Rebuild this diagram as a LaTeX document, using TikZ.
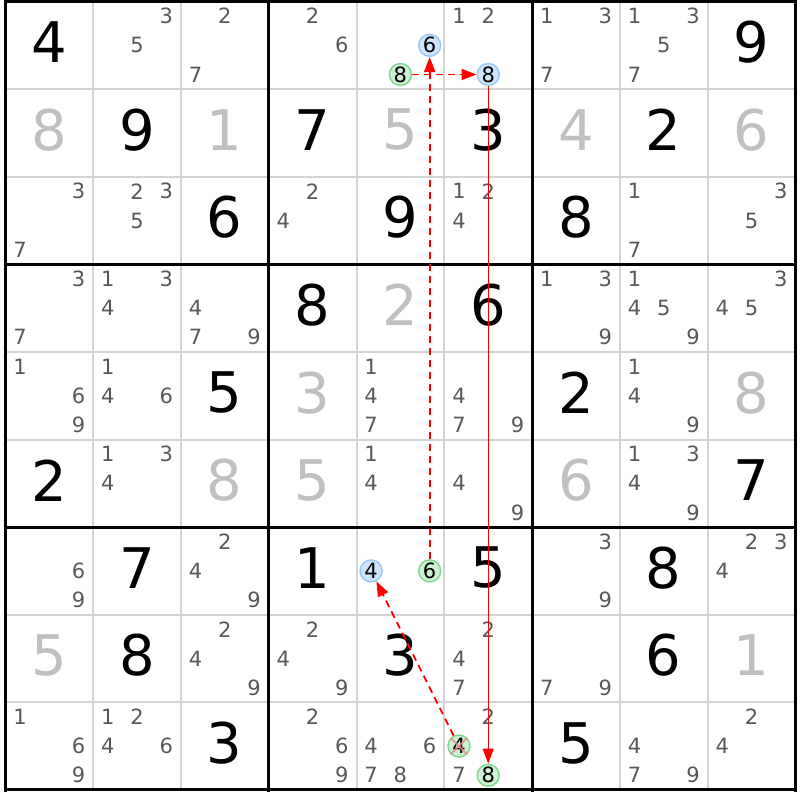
\documentclass[tikz,border=0pt]{standalone}
\usepackage{fontspec}
\setmainfont{DejaVu Sans}
\usetikzlibrary{arrows.meta}
\definecolor{candgray}{HTML}{585858}
\definecolor{placedgray}{HTML}{C0C0C0}
\definecolor{thingray}{HTML}{D4D4D4}
\definecolor{bluefill}{HTML}{CFE4FB}
\definecolor{blueedge}{HTML}{98C6F2}
\definecolor{greenfill}{HTML}{CDEFD4}
\definecolor{greenedge}{HTML}{7FD690}
\definecolor{crosscol}{HTML}{F08A8A}
\tikzset{
  cand/.style={inner sep=0pt, font=\fontsize{21}{21}\selectfont, text=candgray},
  givendig/.style={inner sep=0pt, font=\fontsize{56}{56}\selectfont, text=black},
  placeddig/.style={givendig, text=placedgray},
  hlbase/.style={circle, inner sep=0pt, minimum size=22pt, line width=1.4pt,
    font=\fontsize{21}{21}\selectfont, text=black},
  bluecirc/.style={hlbase, draw=blueedge, fill=bluefill},
  greencirc/.style={hlbase, draw=greenedge, fill=greenfill},
  thinline/.style={thingray, line width=2pt},
  thickline/.style={black, line width=3pt},
  weaklink/.style={red, line width=1.8pt, dash pattern=on 7pt off 5pt,
    -{Triangle[length=15pt,width=11pt]}},
  stronglink/.style={red, line width=1.2pt, -{Triangle[length=15pt,width=11pt]}},
  crossmark/.style={crosscol, line width=2pt, opacity=0.8}
}
\newcommand\CandNode[5]{% style, name, row, col, digit
  \pgfmathsetmacro\px{5.3+(#4-1)*87.8+(mod(#5-1,3)+0.5)*87.8/3}%
  \pgfmathsetmacro\py{1.5+(#3-1)*87.6+(floor((#5-1)/3)+0.5)*87.6/3}%
  \node[#1] (#2) at (\px,\py) {#5};}
\newcommand\Cands[3]{%
  \foreach \d in {#3}{\CandNode{cand}{k#1#2\d}{#1}{#2}{\d}}}
\newcommand\SetGiven[3]{%
  \node[givendig] (g#1#2) at ({5.3+(#2-0.5)*87.8},{1.5+(#1-0.5)*87.6-3}) {#3};}
\newcommand\SetPlaced[3]{%
  \node[placeddig] (p#1#2) at ({5.3+(#2-0.5)*87.8},{1.5+(#1-0.5)*87.6-3}) {#3};}
\begin{document}
\begin{tikzpicture}[x=1pt,y=-1pt]
\useasboundingbox (0,0) rectangle (800,800);
\fill[white] (0,0) rectangle (800,800);
% thin grid lines
\foreach \i in {1,2,4,5,7,8}{
  \draw[thinline] ({5.3+\i*87.8},1.5) -- ({5.3+\i*87.8},790);
  \draw[thinline] (5.3,{1.5+\i*87.6}) -- (795.5,{1.5+\i*87.6});
}
% thick grid lines
\foreach \i in {0,3,6,9}{
  \draw[thickline] ({5.3+\i*87.8},0) -- ({5.3+\i*87.8},791.5);
  \draw[thickline] (3.8,{1.5+\i*87.6}) -- (797,{1.5+\i*87.6});
}
% row 1
\SetGiven{1}{1}{4}
\Cands{1}{2}{3,5}
\Cands{1}{3}{2,7}
\Cands{1}{4}{2,6}
\CandNode{bluecirc}{b156}{1}{5}{6}
\CandNode{greencirc}{h158}{1}{5}{8}
\Cands{1}{6}{1,2}
\CandNode{bluecirc}{b168}{1}{6}{8}
\Cands{1}{7}{1,3,7}
\Cands{1}{8}{1,3,5,7}
\SetGiven{1}{9}{9}
% row 2
\SetPlaced{2}{1}{8}
\SetGiven{2}{2}{9}
\SetPlaced{2}{3}{1}
\SetGiven{2}{4}{7}
\SetPlaced{2}{5}{5}
\SetGiven{2}{6}{3}
\SetPlaced{2}{7}{4}
\SetGiven{2}{8}{2}
\SetPlaced{2}{9}{6}
% row 3
\Cands{3}{1}{3,7}
\Cands{3}{2}{2,3,5}
\SetGiven{3}{3}{6}
\Cands{3}{4}{2,4}
\SetGiven{3}{5}{9}
\Cands{3}{6}{1,2,4}
\SetGiven{3}{7}{8}
\Cands{3}{8}{1,7}
\Cands{3}{9}{3,5}
% row 4
\Cands{4}{1}{3,7}
\Cands{4}{2}{1,3,4}
\Cands{4}{3}{4,7,9}
\SetGiven{4}{4}{8}
\SetPlaced{4}{5}{2}
\SetGiven{4}{6}{6}
\Cands{4}{7}{1,3,9}
\Cands{4}{8}{1,4,5,9}
\Cands{4}{9}{3,4,5}
% row 5
\Cands{5}{1}{1,6,9}
\Cands{5}{2}{1,4,6}
\SetGiven{5}{3}{5}
\SetPlaced{5}{4}{3}
\Cands{5}{5}{1,4,7}
\Cands{5}{6}{4,7,9}
\SetGiven{5}{7}{2}
\Cands{5}{8}{1,4,9}
\SetPlaced{5}{9}{8}
% row 6
\SetGiven{6}{1}{2}
\Cands{6}{2}{1,3,4}
\SetPlaced{6}{3}{8}
\SetPlaced{6}{4}{5}
\Cands{6}{5}{1,4}
\Cands{6}{6}{4,9}
\SetPlaced{6}{7}{6}
\Cands{6}{8}{1,3,4,9}
\SetGiven{6}{9}{7}
% row 7
\Cands{7}{1}{6,9}
\SetGiven{7}{2}{7}
\Cands{7}{3}{2,4,9}
\SetGiven{7}{4}{1}
\CandNode{bluecirc}{b754}{7}{5}{4}
\CandNode{greencirc}{h756}{7}{5}{6}
\SetGiven{7}{6}{5}
\Cands{7}{7}{3,9}
\SetGiven{7}{8}{8}
\Cands{7}{9}{2,3,4}
% row 8
\SetPlaced{8}{1}{5}
\SetGiven{8}{2}{8}
\Cands{8}{3}{2,4,9}
\Cands{8}{4}{2,4,9}
\SetGiven{8}{5}{3}
\Cands{8}{6}{2,4,7}
\Cands{8}{7}{7,9}
\SetGiven{8}{8}{6}
\SetPlaced{8}{9}{1}
% row 9
\Cands{9}{1}{1,6,9}
\Cands{9}{2}{1,2,4,6}
\SetGiven{9}{3}{3}
\Cands{9}{4}{2,6,9}
\Cands{9}{5}{4,6,7,8}
\Cands{9}{6}{2,7}
\CandNode{greencirc}{h964}{9}{6}{4}
\CandNode{greencirc}{h968}{9}{6}{8}
\SetGiven{9}{7}{5}
\Cands{9}{8}{4,7,9}
\Cands{9}{9}{2,4}
% elimination cross
\draw[crossmark] (h964.north west) -- (h964.south east);
\draw[crossmark] (h964.north east) -- (h964.south west);
% links
\draw[weaklink] (h158) -- (b168);
\draw[weaklink] (h756) -- (b156);
\draw[stronglink] (b168) -- (h968);
\draw[weaklink] (h964) -- (b754);
\end{tikzpicture}
\end{document}
